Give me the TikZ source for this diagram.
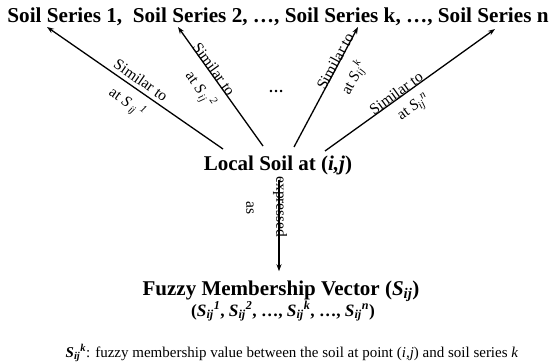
\documentclass[tikz,border=0pt]{standalone}
\usepackage{fontspec}
\setmainfont{Liberation Serif}
\usetikzlibrary{arrows.meta, positioning}

\begin{document}
\begin{tikzpicture}[
    x=1pt, y=-1pt,
    head/.style={font=\fontsize{21.2}{23}\selectfont\bfseries, inner sep=0pt, anchor=base},
    soil/.style={font=\fontsize{21}{23}\selectfont\bfseries, inner sep=0pt, anchor=base},
    lbl/.style={font=\fontsize{15.5}{17}\selectfont, inner sep=0pt},
    note/.style={font=\fontsize{15}{17}\selectfont, inner sep=0pt, anchor=base},
    arr/.style={-{Stealth[length=7pt, width=5pt]}, line width=1.3pt}
]
\useasboundingbox (0,0) rectangle (550,364);

% nodes
\node[head] (series) at (278,23) {Soil Series 1,\ \ Soil Series 2, \dots, Soil Series k, \dots, Soil Series n};
\node[soil] (local) at (278,170) {Local Soil at (\textit{i,j})};
\node[soil] (fuzzy) at (281,295) {Fuzzy Membership Vector (\textit{S\textsubscript{ij}})};
\node[soil, font=\fontsize{17.3}{19}\selectfont\bfseries\itshape] (vec) at (283,316)
  {\upshape(\itshape S\textsubscript{ij}\textsuperscript{1}\upshape, \itshape S\textsubscript{ij}\textsuperscript{2}\upshape, \dots, \itshape S\textsubscript{ij}\textsuperscript{k}\upshape, \dots, \itshape S\textsubscript{ij}\textsuperscript{n}\upshape)};
\node[note] (key) at (292,357) {\textbf{\textit{S\textsubscript{ij}\textsuperscript{k}}}: fuzzy membership value between the soil at point (\textit{i,j}) and soil series \textit{k}};
\node[lbl, font=\fontsize{15}{17}\selectfont\bfseries] (dots) at (276,91) {\dots};

% arrow ends
\coordinate (a1) at (223,149);
\coordinate (a2) at (263,146);
\coordinate (a3) at (294,147);
\coordinate (a4) at (325,151);
\coordinate (t1) at (47,27);
\coordinate (t2) at (178,27);
\coordinate (t3) at (358,27);
\coordinate (t4) at (495,29);

\draw[arr] (a1) -- (t1);
\draw[arr] (a2) -- (t2);
\draw[arr] (a3) -- (t3);
\draw[arr] (a4) -- (t4);
\draw[arr] ([xshift=1pt, yshift=-5pt]local.south) -- ([xshift=-2pt, yshift=9pt]fuzzy.north);

% labels on arrows
\node[lbl, rotate=-35] (sim1) at (141,80) {Similar to};
\node[lbl, rotate=-35] (at1) at (127,103) {at \textit{S}\,\textsubscript{\textit{ij}}\,\textsuperscript{\textit{1}}};
\node[lbl, rotate=-54.5] (sim2) at (214,69) {Similar to};
\node[lbl, rotate=-54.5] (at2) at (200,90) {at \textit{S}\,\textsubscript{\textit{ij}}\,\textsuperscript{\textit{2}}};
\node[lbl, rotate=61.7] (sim3) at (335,61) {Similar to};
\node[lbl, rotate=61.7] (at3) at (354,78) {at \textit{S}\textsubscript{\textit{ij}}\textsuperscript{\textit{k}}};
\node[lbl, rotate=36] (sim4) at (396,93) {Similar to};
\node[lbl, rotate=36] (at4) at (414,108) {at \textit{S}\textsubscript{\textit{ij}}\textsuperscript{\textit{n}}};
\node[lbl, rotate=-90] (expr) at (280,207) {expressed};
\node[lbl, rotate=-90] (as) at (250,208) {as};
\end{tikzpicture}
\end{document}
